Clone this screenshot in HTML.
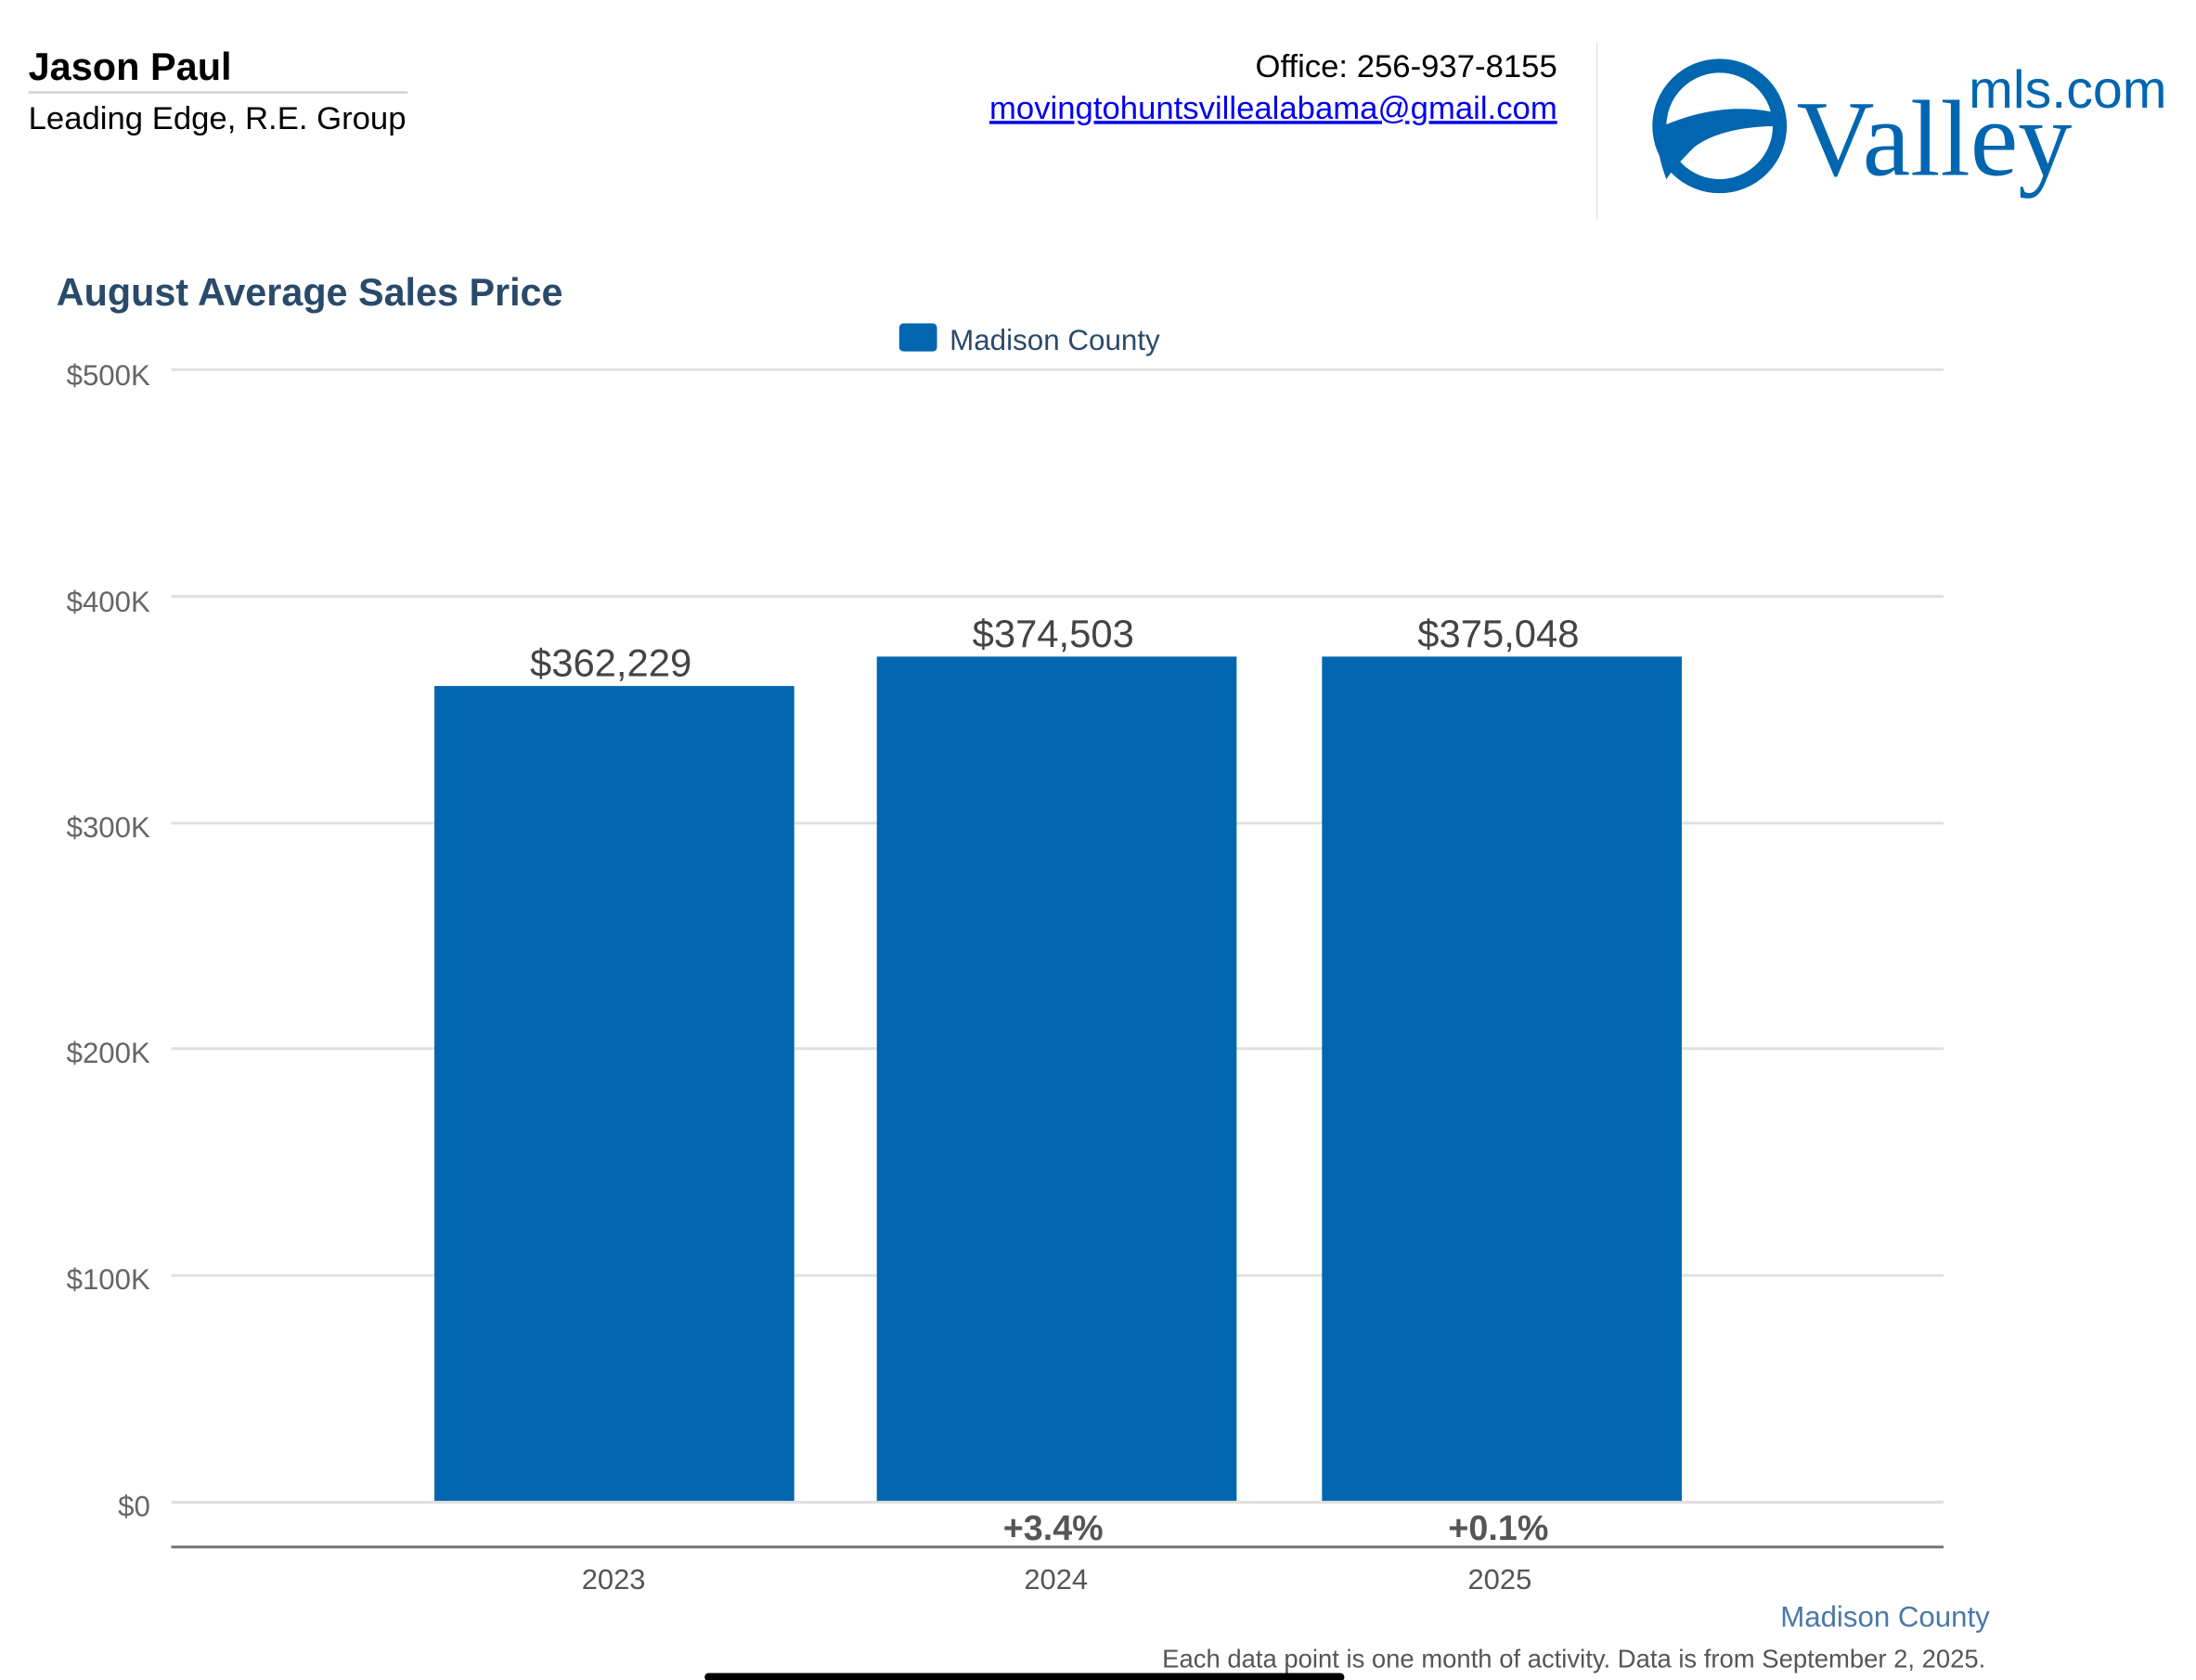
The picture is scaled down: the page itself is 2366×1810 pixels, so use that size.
<!DOCTYPE html>
<html><head><meta charset="utf-8"><style>html,body{margin:0;padding:0;background:#fff;}svg{display:block}</style></head>
<body>
<svg width="2366" height="1810" viewBox="0 0 1568 1200" xmlns="http://www.w3.org/2000/svg" font-family="Liberation Sans, sans-serif">
<rect width="1568" height="1200" fill="#fff"/>
<text x="20" y="57" font-size="27.5" font-weight="bold" fill="#000">Jason Paul</text>
<rect x="20" y="65" width="271" height="2" fill="#d8d8d8"/>
<text x="20" y="92" font-size="23" fill="#000">Leading Edge, R.E. Group</text>
<text x="1112" y="55" font-size="23" fill="#000" text-anchor="end">Office: 256-937-8155</text>
<text x="1112" y="85" font-size="23" fill="#0000ee" text-anchor="end" text-decoration="underline">movingtohuntsvillealabama@gmail.com</text>
<rect x="1140" y="30" width="1" height="127" fill="#e4e4e4"/>
<ellipse cx="1228" cy="90" rx="43" ry="43" fill="none" stroke="#0066b0" stroke-width="10"/>
<path d="M1183 92 Q1230 70 1275 82 L1273 90 Q1230 90 1210 105 Q1195 120 1190 128 Q1183 110 1183 92Z" fill="#0066b0"/>
<text x="1283" y="125" font-size="77" font-family="Liberation Serif, serif" fill="#0066b0">Valley</text>
<text x="1406" y="77" font-size="38" fill="#0066b0">mls.com</text>
<text x="40" y="218" font-size="27.4" font-weight="bold" fill="#2a4a6b">August Average Sales Price</text>
<rect x="642" y="231" width="27" height="20" rx="3" fill="#0066b0"/>
<text x="678" y="250" font-size="20.8" fill="#2a4a6b">Madison County</text>
<g stroke="#e0e0e0" stroke-width="2">
<line x1="122" y1="264" x2="1388" y2="264"/>
<line x1="122" y1="426" x2="1388" y2="426"/>
<line x1="122" y1="588" x2="1388" y2="588"/>
<line x1="122" y1="749" x2="1388" y2="749"/>
<line x1="122" y1="911" x2="1388" y2="911"/>
<line x1="122" y1="1073" x2="1388" y2="1073"/>
</g>
<g font-size="20.7" fill="#666" text-anchor="end">
<text x="107" y="275">$500K</text>
<text x="107" y="437">$400K</text>
<text x="107" y="598">$300K</text>
<text x="107" y="759">$200K</text>
<text x="107" y="921">$100K</text>
<text x="107" y="1083">$0</text>
</g>
<g fill="#0066b0">
<rect x="310" y="490" width="257" height="582"/>
<rect x="626" y="469" width="257" height="603"/>
<rect x="944" y="469" width="257" height="603"/>
</g>
<g font-size="27.7" fill="#444" text-anchor="middle">
<text x="436" y="483">$362,229</text>
<text x="752" y="462">$374,503</text>
<text x="1070" y="462">$375,048</text>
</g>
<g font-size="25" font-weight="bold" fill="#555" text-anchor="middle">
<text x="752" y="1100">+3.4%</text>
<text x="1070" y="1100">+0.1%</text>
</g>
<rect x="122" y="1104" width="1266" height="2" fill="#777"/>
<g font-size="20.5" fill="#555" text-anchor="middle">
<text x="438" y="1135">2023</text>
<text x="754" y="1135">2024</text>
<text x="1071" y="1135">2025</text>
</g>
<text x="1421" y="1162" font-size="20.7" fill="#4a78aa" text-anchor="end">Madison County</text>
<text x="1418" y="1191" font-size="18.2" fill="#555" text-anchor="end">Each data point is one month of activity. Data is from September 2, 2025.</text>
<rect x="503" y="1195" width="457" height="6" rx="3" fill="#000"/>
</svg>
</body></html>
